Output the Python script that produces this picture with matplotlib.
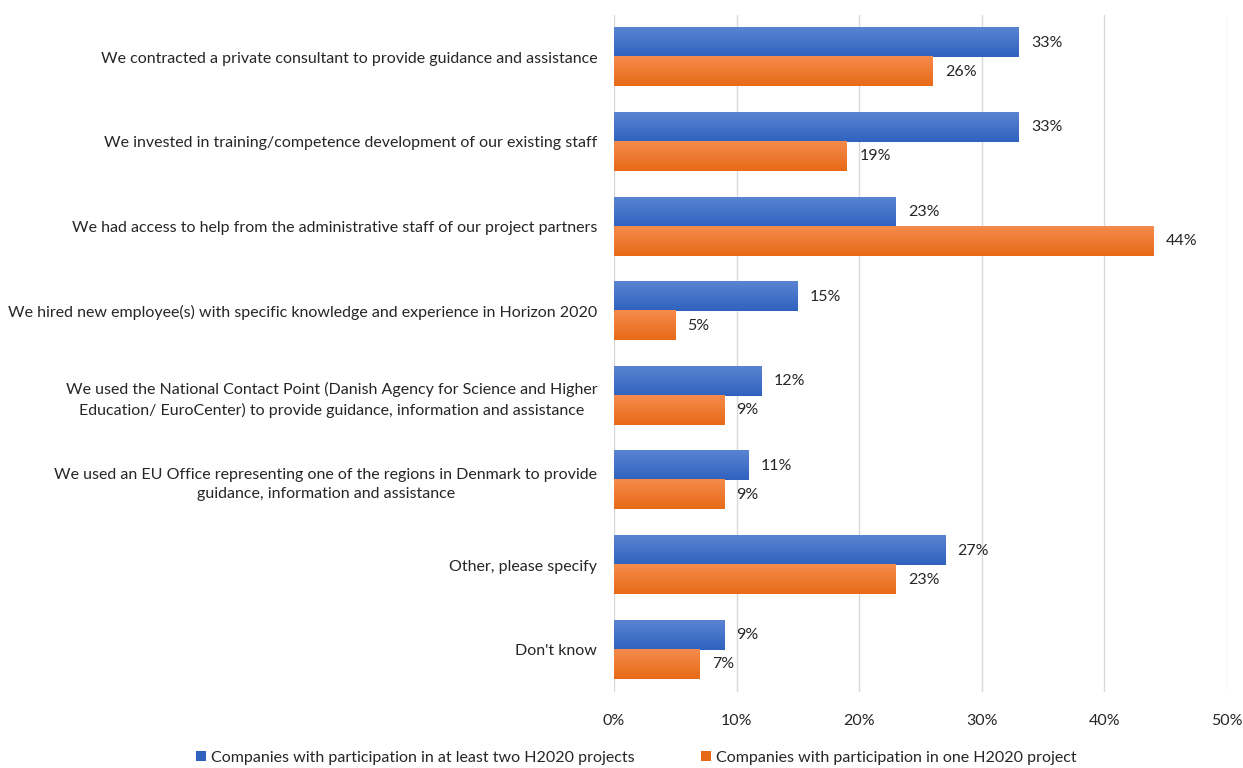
import numpy as np
import matplotlib.pyplot as plt
from matplotlib import font_manager
from matplotlib.colors import LinearSegmentedColormap
from matplotlib.patches import Patch

names = {f.name for f in font_manager.fontManager.ttflist}
font = 'Liberation Sans Narrow' if 'Liberation Sans Narrow' in names else 'Lato'
plt.rcParams['font.family'] = [font, 'DejaVu Sans']

categories = [
    "We contracted a private consultant to provide guidance and assistance",
    "We invested in training/competence development of our existing staff",
    "We had access to help from the administrative staff of our project partners",
    "We hired new employee(s) with specific knowledge and experience in Horizon 2020",
    "We used the National Contact Point (Danish Agency for Science and Higher\nEducation/ EuroCenter) to provide guidance, information and assistance",
    "We used an EU Office representing one of the regions in Denmark to provide\nguidance, information and assistance",
    "Other, please specify",
    "Don't know",
]
two_plus = [33, 33, 23, 15, 12, 11, 27, 9]
one_proj = [26, 19, 44, 5, 9, 9, 23, 7]
series_names = ["Companies with participation in at least two H2020 projects",
                "Companies with participation in one H2020 project"]
xticks = [0, 10, 20, 30, 40, 50]

blue_top, blue_bot = '#5a84d2', '#2f62bf'
orange_top, orange_bot = '#f58b4c', '#e76a17'
fs = 11.5

fig = plt.figure(figsize=(12.43, 7.68), dpi=100)
ax = fig.add_axes([614 / 1243, 1 - 692 / 768, (1227 - 614) / 1243, (692 - 15) / 768])

y = np.arange(len(categories))
h = 0.343


def gradient_bars(ax, ys, vals, top, bot):
    cmap = LinearSegmentedColormap.from_list('g', [top, bot])
    grad = np.linspace(0, 1, 64).reshape(-1, 1)
    bars = ax.barh(ys, vals, height=h, color='none', align='center')
    for b in bars:
        x0, y0 = b.get_x(), b.get_y()
        w, hh = b.get_width(), b.get_height()
        # y axis is inverted, so top of the image is the smaller y
        ax.imshow(grad, extent=[x0, x0 + w, y0 + hh, y0], cmap=cmap,
                  aspect='auto', origin='upper', zorder=2, interpolation='bilinear')
    return bars


gradient_bars(ax, y - h / 2, two_plus, blue_top, blue_bot)
gradient_bars(ax, y + h / 2, one_proj, orange_top, orange_bot)

for yi, v in zip(y - h / 2, two_plus):
    ax.text(v + 1.0, yi, f"{v}%", va='center', ha='left', fontsize=fs, color='#262626')
for yi, v in zip(y + h / 2, one_proj):
    ax.text(v + 1.0, yi, f"{v}%", va='center', ha='left', fontsize=fs, color='#262626')

ax.set_xlim(0, 50)
ax.set_ylim(len(categories) - 0.5, -0.5)
ax.set_xticks(xticks)
ax.set_xticklabels([f"{t}%" for t in xticks], fontsize=fs, color='#262626')
ax.set_yticks(y)
ax.set_yticklabels(categories, fontsize=fs, color='#262626', multialignment='center')
for lbl in ax.get_yticklabels():
    lbl.set_linespacing(1.5)
ax.tick_params(length=0, pad=16)
ax.tick_params(axis='y', pad=12)
ax.grid(axis='x', color='#d9d9d9', linewidth=1)
ax.set_axisbelow(True)
for s in ax.spines.values():
    s.set_visible(False)

handles = [Patch(facecolor=blue_bot), Patch(facecolor=orange_bot)]
fig.legend(handles, series_names, loc='center', bbox_to_anchor=(0.512, 1 - 758 / 768),
           ncol=2, frameon=False, fontsize=fs, handlelength=0.6, handleheight=0.6,
           handletextpad=0.3, columnspacing=4.2, labelcolor='#262626')

fig.savefig('out.png', dpi=100, facecolor='white')
